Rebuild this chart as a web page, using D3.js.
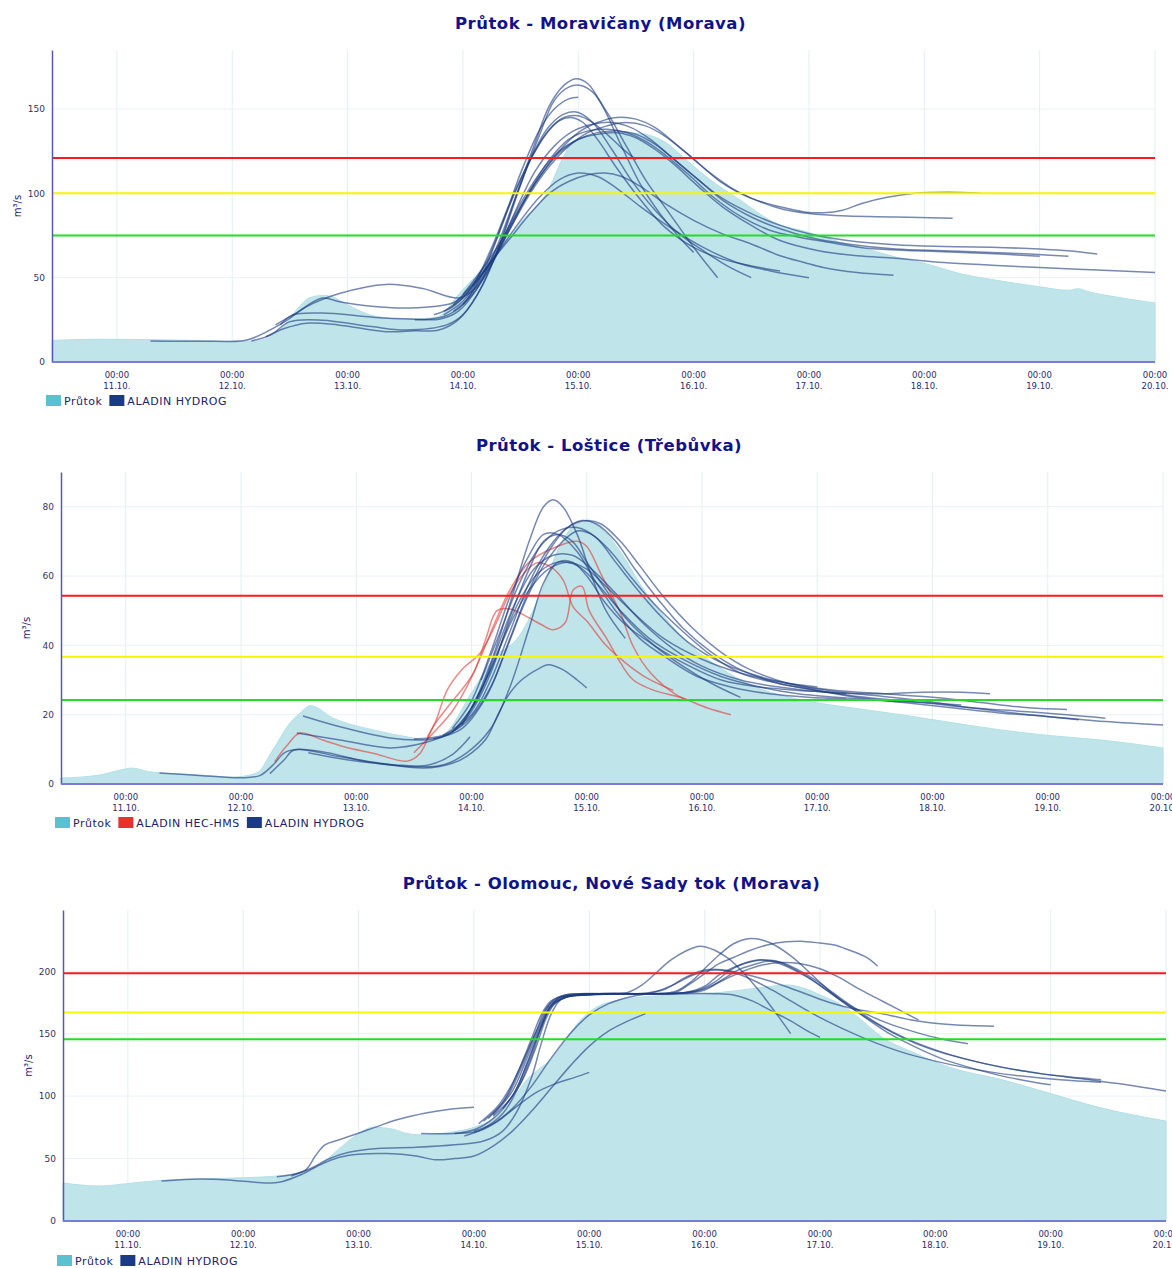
<!DOCTYPE html>
<html>
<head>
<meta charset="utf-8">
<script src="https://cdn.jsdelivr.net/npm/d3@7"></script>
<style>
  body { margin: 0; background: #fff; }
  svg text { font-family: "DejaVu Sans", Verdana, sans-serif; }
</style>
</head>
<body>
<svg id="chart" width="1172" height="1268"></svg>
<script>
// time values are hours counted from 10.10. 00:00
const titles = ['Průtok - Moravičany (Morava)', 'Průtok - Loštice (Třebůvka)', 'Průtok - Olomouc, Nové Sady tok (Morava)'];
const observedName = 'Průtok';
const hydrogName = 'ALADIN HYDROG';
const hecName = 'ALADIN HEC-HMS';

// ---------- Moravičany ----------
const moravicanyTicks = [0, 50, 100, 150];
const moravicanyLevels = [75, 100, 121];
const moravicanyObserved = [[10.5,12.8],[20,13.5],[30,13.3],[40,12.8],[48,12.2],[53,12.5],[56,15],[59,22],[62,33],[64,38],[67,39.5],[69,38.5],[71,35.5],[74,31],[78,27],[84,25.5],[89,26],[91,27],[95.3,40.8],[101.6,60],[108.4,84],[113.4,100],[116.8,121],[118.9,131],[122.4,134],[129.3,136],[132.8,135.5],[138.5,129.6],[142.6,119.5],[146.8,109.5],[153.7,96],[160.6,83],[167.7,77],[174.5,71],[180,67],[186.4,62],[192,58.5],[200,52],[208,48],[216,44.6],[222,42.5],[224,43.5],[226,41.8],[232,38.5],[240,35]];
const moravicanyHydrog = [
  [[55,15],[59,20],[63.4,23],[70,22],[80,18],[86,18.5],[91,19],[95,25],[99,40],[103,65],[107,98],[111,130],[114,152],[117,164],[119.5,168],[122,165],[125,152],[129,128],[133,105],[137,88],[141,74],[144,65]],
  [[52,12.5],[56,16],[59.9,23.8],[66.7,24.8],[77,21],[84,19],[92.6,22],[96,28],[100,45],[104,72],[108,105],[112,135],[115,155],[118,163],[120.5,164],[123,160],[126,148],[130,128],[134,108],[139,88],[144,68],[149,50]],
  [[86,25],[92,27],[96,34],[100,52],[104,80],[108,112],[112,138],[115,150],[118,156],[120,157]],
  [[58,22],[60.5,27.8],[66.7,29],[77.2,26.6],[85,25.5],[91.1,25.4],[95,30],[99,44],[103,68],[107,98],[111,126],[114,140],[117,147],[120,148],[123,142],[127,126],[131,108],[136,90],[141,76],[146,66],[151,57],[156,50]],
  [[57,22],[61.3,29],[66.7,37.9],[70.3,35.7],[77,33],[84.3,32],[93.8,35],[97,42],[101,60],[105,88],[109,114],[113,134],[116,143],[118.5,145],[121,142],[124,132],[128,115],[133,96],[138,80],[144,68],[150,61],[156,57],[162,54]],
  [[31,12.5],[44,12.3],[51,13],[58.4,23],[63.4,32.7],[70.3,40.6],[80,46],[87.6,43.6],[95.3,38],[99,45],[103,64],[107,90],[111,113],[115,128],[119,137],[123,141],[127,142],[131,139],[135,132],[140,120],[145,108],[150,97],[156,88],[162,81],[168,76],[176,72],[186,69.5],[196,68.5],[206,68],[216,67],[222,66],[228,64]],
  [[92,30],[96,38],[100,52],[104,68],[108,84],[112,98],[116,108],[120,112],[124,110],[128,103],[133,92],[139,80],[146,68],[153,59],[160,54],[168,50]],
  [[94,34],[98,46],[102,60],[106,74],[110,88],[114,100],[118,107],[122,111],[125.5,112],[129,110],[133,104],[138,94],[144,84],[150,76],[156,70],[162,63],[167,59],[171,56],[178,53],[185.6,51.5]],
  [[96,40],[100,55],[104,72],[108,92],[112,110],[116,125],[120,136],[124,142],[128,145],[132,144],[136,139],[140,130],[145,118],[150,106],[156,97],[162,92],[167,89],[171,88.5],[175,90],[179,94],[184,97.5],[190,100],[197,100.6],[203.7,100]],
  [[98,45],[102,60],[106,80],[110,100],[114,116],[118,128],[122,136],[126,140],[130,142],[134,140],[138,134],[142,125],[147,113],[152,103],[157,96],[162,91],[168,88],[176,86.5],[186,86],[197.9,85.2]],
  [[92,28],[96,36],[100,52],[104,72],[108,94],[112,112],[116,125],[120,132],[124,135],[128,136],[132,133],[136,126],[140,117],[145,104],[150,92],[156,81],[162,72],[170,66],[178,63],[186,61.5],[196,59],[206,57.4],[216,56],[228,54.5],[240,53]],
  [[94,30],[98,40],[102,58],[106,80],[110,102],[114,120],[118,132],[122,137],[126,138],[130,136],[134,131],[138,123],[143,111],[148,98],[154,86],[160,78],[166,74],[172,71],[180,67.5],[190,66],[200,65],[208,64],[216,62.7]],
  [[96,34],[100,50],[104,70],[108,92],[112,110],[116,124],[120,132],[124,136],[128,137],[132,135],[136,129],[140,120],[145,108],[150,96],[156,86],[162,79],[168,74],[176,70],[186,67],[196,66],[206,65],[214,64],[222,62.7]],
  [[90,28],[94,33],[98,45],[102,68],[106,96],[110,120],[114,138],[117,145],[120,146],[123,142],[126,135],[129,127],[132,120]]
];

// ---------- Loštice ----------
const losticeTicks = [0, 20, 40, 60, 80];
const losticeLevels = [24.2, 36.7, 54.3];
const losticeObserved = [[10.5,1.7],[18.6,2.6],[22.7,4],[25.3,4.6],[29,3.5],[39.4,2.6],[46.3,2],[51.3,3.2],[54.6,9.8],[58.2,17.6],[60.3,20.5],[62.4,22.6],[67.2,19],[75.5,15.6],[82.6,13.6],[86.8,12.7],[90,14],[96.3,27],[100.5,36],[106.1,43],[110.3,54.6],[114.5,69],[117.6,74.8],[120.7,75.7],[122.8,74],[127,67],[131.2,57.5],[135.3,49.7],[141.6,40],[147.8,33.5],[154.1,28.6],[164.5,24.3],[175,22],[185.4,20],[192.3,18.5],[206.2,15.6],[216.2,14],[227.1,12.7],[240,10.4]];
const losticeHec = [
  [[55,6.4],[57.5,11],[60.3,14.7],[65,12.7],[70,10.5],[75.5,8.9],[82.6,6.6],[85.3,8.9],[88,16.5],[90.9,22],[96.4,32],[99,42],[101.3,50],[104,50.5],[107.6,48.2],[110.5,46],[113,44.5],[115.5,46.5],[117.2,56],[119,57],[120.5,50],[124.3,41.6],[127,35],[129.7,30],[134,27],[139.5,25],[145,22],[150,20]],
  [[86.8,13.6],[88.5,18],[90.9,27],[94,33],[97.8,37.8],[101,46],[104,55],[107.6,61.8],[109.7,63.8],[112.4,62.7],[115,59],[117.2,51],[120,47],[124,40],[128,35],[132,31],[138,27]],
  [[84,9],[88,14.7],[92,21],[95,28],[98,37],[101,47],[104,56],[108,64],[113.8,68.5],[118,70],[120,68.5],[122.8,61],[125,55],[127,49.4],[129.7,39.6],[133.3,32],[138.9,25.5],[141.6,24]]
];
const losticeHydrog = [
  [[31,3.2],[40,2.4],[48,1.8],[52,2.5],[55,6],[57,9],[60,10],[66,9],[74,6.5],[84,5],[90,5.5],[95,9],[100,16],[104,28],[108,45],[111,58],[114,64],[117,64],[120,60],[124,52],[128,46],[134,40],[140,35],[148,30],[156,28],[164,27],[170,26.5],[174,26]],
  [[54,3],[57,7],[59,9.8],[68,8],[77,6],[86,4.6],[92,6],[95,8],[99,13],[101.5,20],[103.4,25],[106,29.5],[110.3,33.5],[112,34.4],[115,33],[118,30],[120,27.7]],
  [[62,9],[70,7],[80,5.5],[87,5.5],[92,8.5],[95.7,13.6]],
  [[60.9,19.6],[68.6,16.5],[79,13.3],[84.7,12.7],[88,13],[92,15],[96,22],[100,35],[104,52],[108,70],[111,80],[113,82],[115,80],[118,72],[121,60],[124,50],[128,42]],
  [[59.6,14.7],[68.6,12.7],[79,10.4],[86,11.8],[92,15],[96,21],[100,32],[104,48],[108,62],[111,70],[114,72],[117,70],[120,64],[124,56],[128,48],[134,40],[140,34],[146,29],[152,25]],
  [[84,13],[90,14],[95,18],[100,28],[104,42],[108,56],[112,67],[116,74],[119,76],[122,75],[126,70],[130,62],[135,53],[140,45],[146,38],[152,33],[160,29],[168,27],[176,25],[186,23.5],[196,22],[206,20.5],[216,19.5],[228,18],[240,17]],
  [[88,13],[94,16],[99,25],[103,38],[107,52],[111,63],[115,70],[118,73],[121,72],[125,67],[129,60],[134,52],[140,44],[146,37],[152,32],[160,29],[168,27],[178,25],[190,23.5],[200,22],[210,21],[220,20],[228,19]],
  [[90,14],[96,20],[100,30],[104,44],[108,58],[112,68],[116,74],[120,76],[123,75],[127,70],[131,63],[136,54],[142,45],[148,38],[154,33],[162,29],[170,27],[180,25.5],[190,24],[200,22],[212,20],[222.5,18.5]],
  [[92,15],[97,24],[101,38],[105,52],[109,62],[113,66],[117,66],[121,62],[126,55],[132,46],[138,39],[144,34],[152,30],[160,28],[170,26.5],[180,26],[190,26.5],[198,26.5],[204,26]],
  [[94,17],[98,27],[102,40],[106,53],[110,61],[114,64],[118,63],[122,58],[127,50],[133,42],[140,36],[148,31],[156,28],[164,26],[172,25],[182,24],[190,23.5],[198,22.8]],
  [[96,22],[100,33],[104,46],[108,56],[112,62],[116,64],[120,62],[124,57],[130,49],[136,42],[144,36],[152,32],[160,29.5],[168,28]],
  [[92,16],[96,24],[100,38],[104,54],[108,66],[111,72],[114,72],[118,67],[122,58],[126,50],[131,42],[137,36],[143,31],[150,28],[158,26],[166,25],[174,24.5]],
  [[98,30],[102,44],[106,58],[110,68],[114,73],[118,74],[122,71],[126,64],[130,57],[135,49],[141,41],[148,35],[156,31],[164,28.5],[172,27],[182,26],[192,25],[202,23.5],[212,22],[220,21.5]]
];

// ---------- Olomouc ----------
const olomoucTicks = [0, 50, 100, 150, 200];
const olomoucLevels = [145.6, 167, 198.4];
const olomoucObserved = [[10.5,30.4],[18,28],[25,30.4],[32,32.8],[39,33.6],[46,34.4],[55,36],[60,39],[64,45],[68,58],[72,70],[75,75],[79,73.6],[82,70],[85,69],[91,71],[96,75],[100,82],[104,97],[107,113],[110,123],[112,129],[116,150],[118,160],[121,170],[125,176],[130,179],[138,181],[144,182],[152,185],[158,188],[161,189],[165,186],[168,181],[172,174],[175,166],[181,147],[188,134],[195,123],[206,113],[216,102],[226,91],[240,80]];
const olomoucHydrog = [
  [[85,70],[92,70],[97,72],[101,80],[105,92],[109,103],[113,110],[117,115],[120,119]],
  [[55,35.5],[58,37],[61,41],[63,52],[65,61],[68,65],[74,73],[80,81],[86,86.5],[91,89.5],[96,91]],
  [[31,32],[39,33.6],[46,32.5],[53,30.5],[56,31.5],[60,37],[64,45],[68,51],[72,53.5],[78,54],[84,52],[88,49],[92,50],[96,52],[100,60],[104,72],[108,88],[112,106],[116,124],[120,140],[124,152],[128,160],[131.7,166]],
  [[58,36],[62,42],[66,50],[70,55],[76,58],[84,59],[92,61],[98,64],[102,72],[105,88],[108,115],[110,142],[112,165],[114,177],[117,181],[124,182],[132,182],[140,182],[146,182],[150,181],[154,176],[158,168],[162,160],[165,153],[168,147]],
  [[96,72],[100,78],[104,90],[108,108],[112,130],[116,150],[120,165],[124,174],[128,179],[132,182],[136,186],[140,195],[144,201],[148,201],[152,198],[156,194],[160,189],[165,182],[170,175],[175,170],[181,166],[187,161],[193,158],[199,156.5],[204.2,156]],
  [[94,68],[98,74],[102,86],[105,105],[108,132],[110,155],[112,172],[114,179],[118,181],[124,182],[128,183],[131,189],[134,199],[137,209],[140,216],[143,220],[146,217],[149,210],[152,199],[155,186],[157,176],[159.5,163],[161.9,150]],
  [[92,70],[96,73],[100,82],[104,100],[107,125],[110,155],[112,171],[115,179],[120,181],[128,182],[134,182],[138,184],[141,191],[144,202],[147,213],[150,222],[153,226],[156,225],[159,220],[162,212],[165,202],[168,191],[171,181],[174,173],[178,165],[183,157],[188,151],[193,146],[198.8,142]],
  [[100,84],[104,100],[107,126],[110,156],[112,172],[115,179],[120,181],[128,182],[134,182],[138,183],[141,190],[144,198],[147,206],[150,211],[153,216],[157,221],[161,223.5],[164,224],[168,222.5],[171,221],[174,217],[177.7,211],[180,204]],
  [[102,90],[106,112],[109,140],[111,162],[113,175],[116,180],[122,182],[132,182],[140,183],[144,186],[148,193],[152,200],[156,205],[160,207],[164,206],[168,202],[172,195],[176,186],[180,178],[184,170],[188.5,161]],
  [[98,80],[102,95],[105,118],[108,146],[110,165],[112,176],[115,181],[122,182],[132,182],[140,183],[144,188],[147,197],[150,203],[153,207],[156,209],[159,208],[162,203],[166,194],[170,183],[174,172],[178,162],[183,151],[188,142],[194,134],[200,128],[206,123],[212,119],[218,116],[226.5,113]],
  [[97,78],[101,92],[104,110],[107,135],[110,160],[112,175],[115,181],[124,182],[134,182],[142,184],[146,191],[149,200],[152,206],[155,209],[158,208],[161,204],[165,196],[169,186],[173,175],[177,164],[182,151],[188,139],[194,129],[200,122],[206,116],[212,111.5],[216,109]],
  [[99,82],[103,100],[106,124],[109,152],[111,170],[114,179],[118,181],[128,182],[138,182],[144,185],[148,194],[151,201],[154,205],[157,208],[160,207],[163,202],[167,193],[171,182],[175,171],[180,158],[186,146],[192,137],[198,130],[206,123],[214,118],[222,114],[230,110],[240,104]],
  [[100,85],[104,104],[107,130],[110,158],[112,173],[115,180],[122,182],[130,182],[134,184],[138,190],[141,196],[144,200],[147,201],[150,199],[154,193],[158,185],[162,176],[166,167],[170,159],[175,150],[180,142],[186,134],[192,128],[198,123],[204,119],[210,116],[218,113],[226.5,111]]
];

const colors = { observed: '#bfe5eb', observedKey: '#5bc0cf', hydrog: '#1b3a80', hec: '#e23a36' };
const levelColors = ['#22dd22', '#f6f600', '#ff1a1a'];

const panels = [
  { title: titles[0], observed: moravicanyObserved, ticks: moravicanyTicks, levels: moravicanyLevels, yMax: 185,
    series: [{ name: hydrogName, runs: moravicanyHydrog, color: colors.hydrog }],
    left: 52, right: 1155, top: 50, bottom: 362, titleY: 29, legendY: 395 },
  { title: titles[1], observed: losticeObserved, ticks: losticeTicks, levels: losticeLevels, yMax: 90,
    series: [{ name: hecName, runs: losticeHec, color: colors.hec }, { name: hydrogName, runs: losticeHydrog, color: colors.hydrog }],
    left: 61, right: 1163, top: 472, bottom: 784, titleY: 451, legendY: 817 },
  { title: titles[2], observed: olomoucObserved, ticks: olomoucTicks, levels: olomoucLevels, yMax: 249,
    series: [{ name: hydrogName, runs: olomoucHydrog, color: colors.hydrog }],
    left: 63, right: 1166, top: 910, bottom: 1221, titleY: 889, legendY: 1255 }
];

const start = new Date(2020, 9, 10);
const toTime = h => new Date(start.getTime() + h * 3600000);
const svg = d3.select('#chart');

function drawPanel(p) {
  const x = d3.scaleTime().domain([toTime(10.5), toTime(240)]).range([p.left, p.right]);
  const y = d3.scaleLinear().domain([0, p.yMax]).range([p.bottom, p.top]);
  const g = svg.append('g');
  const days = d3.timeDay.range(toTime(24), toTime(240.5));

  // grid
  g.append('g').selectAll('line').data(days).join('line')
    .attr('x1', d => x(d)).attr('x2', d => x(d))
    .attr('y1', p.top).attr('y2', p.bottom)
    .attr('stroke', '#e1f0f3').attr('stroke-width', 1);
  g.append('g').selectAll('line').data(p.ticks.filter(v => v > 0)).join('line')
    .attr('x1', p.left).attr('x2', p.right)
    .attr('y1', d => y(d)).attr('y2', d => y(d))
    .attr('stroke', '#e9f2f5').attr('stroke-width', 1);

  // observed flow
  const area = d3.area()
    .x(d => x(toTime(d[0]))).y0(y(0)).y1(d => y(d[1]))
    .curve(d3.curveMonotoneX);
  g.append('path').datum(p.observed).attr('d', area)
    .attr('fill', colors.observed).attr('stroke', '#b3e0e7').attr('stroke-width', 1);

  // forecast runs
  const line = d3.line()
    .x(d => x(toTime(d[0]))).y(d => y(d[1]))
    .curve(d3.curveCatmullRom.alpha(0.5));
  p.series.forEach(s => {
    g.append('g').selectAll('path').data(s.runs).join('path')
      .attr('d', line).attr('fill', 'none')
      .attr('stroke', s.color).attr('stroke-opacity', 0.6).attr('stroke-width', 1.5);
  });

  // flood levels
  g.append('g').selectAll('line').data(p.levels).join('line')
    .attr('x1', p.left).attr('x2', p.right)
    .attr('y1', d => y(d)).attr('y2', d => y(d))
    .attr('stroke', (d, i) => levelColors[i]).attr('stroke-width', 2);

  // y axis
  const ya = g.append('g').attr('transform', `translate(${p.left},0)`)
    .call(d3.axisLeft(y).tickValues(p.ticks).tickSize(0).tickPadding(7));
  ya.select('.domain').attr('stroke', '#5858b4').attr('stroke-width', 1.5);
  ya.selectAll('text').attr('font-size', 9).attr('fill', '#333366')
    .attr('font-family', '"DejaVu Sans", Verdana, sans-serif');

  // x axis
  g.append('line').attr('x1', p.left).attr('x2', p.right)
    .attr('y1', p.bottom).attr('y2', p.bottom)
    .attr('stroke', '#7b7bd6').attr('stroke-width', 2);
  const fmt = d3.timeFormat('%d.%m.');
  const lab = g.append('g').selectAll('text').data(days).join('text')
    .attr('x', d => x(d)).attr('text-anchor', 'middle')
    .attr('font-size', 8.5).attr('fill', '#2b2b6b');
  lab.append('tspan').attr('x', d => x(d)).attr('y', p.bottom + 16).text('00:00');
  lab.append('tspan').attr('x', d => x(d)).attr('y', p.bottom + 27).text(d => fmt(d));

  // y label
  g.append('text')
    .attr('transform', `translate(${p.left - 31},${(p.top + p.bottom) / 2}) rotate(-90)`)
    .attr('text-anchor', 'middle').attr('font-size', 10).attr('fill', '#1c1c70')
    .text('m³/s');

  // title
  g.append('text').attr('x', (p.left + p.right) / 2 - 3).attr('y', p.titleY)
    .attr('text-anchor', 'middle').attr('font-size', 16.5).attr('font-weight', 'bold')
    .attr('letter-spacing', 0.5).attr('fill', '#12128a').text(p.title);

  // legend
  const items = [{ name: observedName, color: colors.observedKey }]
    .concat(p.series.map(s => ({ name: s.name, color: s.color === colors.hec ? '#e8322e' : '#1a3a85' })));
  let lx = p.left - 6;
  items.forEach(it => {
    g.append('rect').attr('x', lx).attr('y', p.legendY).attr('width', 15).attr('height', 11).attr('fill', it.color);
    const t = g.append('text').attr('x', lx + 18).attr('y', p.legendY + 10)
      .attr('font-size', 11).attr('letter-spacing', 0.5).attr('fill', '#22226b').text(it.name);
    lx += 18 + t.node().getComputedTextLength() + 7;
  });
}

panels.forEach(drawPanel);
</script>
</body>
</html>
